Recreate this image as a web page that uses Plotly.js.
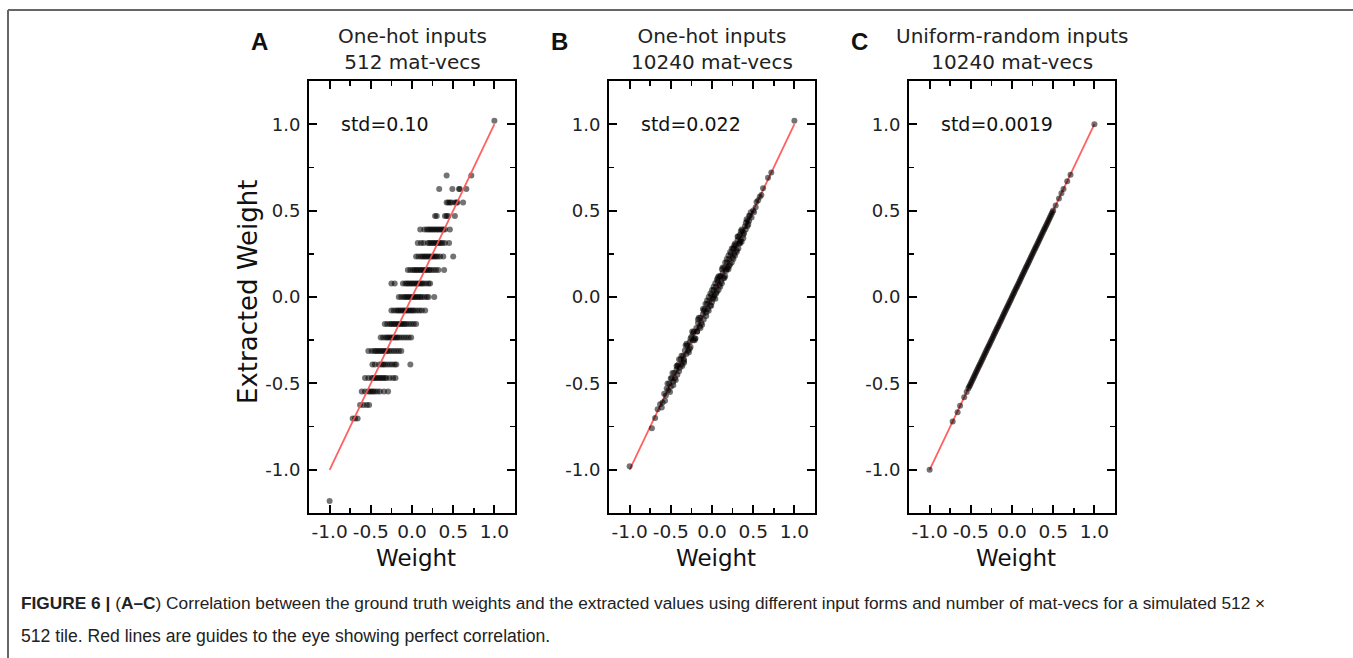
<!DOCTYPE html>
<html>
<head>
<meta charset="utf-8">
<script src="https://cdn.plot.ly/plotly-3.0.1.min.js"></script>
<style>html,body{margin:0;padding:0;background:#fff;}#chart{width:1353px;height:658px;}</style>
</head>
<body>
<div id="chart"></div>
<script>
// ---------- DATA ----------
const panelLetters = ['A', 'B', 'C'];
const panelTitles = ['One-hot inputs<br>512 mat-vecs', 'One-hot inputs<br>10240 mat-vecs', 'Uniform-random inputs<br>10240 mat-vecs'];
const stdLabels = ['std=0.10', 'std=0.022', 'std=0.0019'];
const tickVals = [-1, -0.5, 0, 0.5, 1];
const tickText = ['-1.0', '-0.5', '0.0', '0.5', '1.0'];
const minorTickVals = [-0.75, -0.25, 0.25, 0.75];
const guideX = [-1, 1];
const guideY = [-1, 1];

// Panel A: quantized extracted weight levels and ground-truth weights at each level
const levelsA = [0.703, 0.625, 0.547, 0.469, 0.391, 0.3125, 0.234, 0.156, 0.078, 0.0,
  -0.078, -0.156, -0.234, -0.3125, -0.391, -0.469, -0.547, -0.625, -0.703];
const weightsA = [
  [0.42, 0.72],
  [0.33, 0.49, 0.57, 0.58, 0.66],
  [0.42, 0.44, 0.46, 0.48, 0.52, 0.54, 0.55, 0.62],
  [0.28, 0.30, 0.40, 0.42, 0.44, 0.52],
  [0.10, 0.15, 0.18, 0.20, 0.22, 0.24, 0.26, 0.28, 0.30, 0.32, 0.34, 0.36, 0.38, 0.40, 0.46],
  [0.07, 0.11, 0.14, 0.19, 0.21, 0.23, 0.25, 0.27, 0.29, 0.31, 0.33, 0.35, 0.37, 0.40, 0.45],
  [0.05, 0.08, 0.11, 0.13, 0.15, 0.17, 0.19, 0.21, 0.23, 0.25, 0.27, 0.29, 0.31, 0.34, 0.38, 0.50],
  [-0.05, -0.02, 0.01, 0.03, 0.05, 0.07, 0.09, 0.11, 0.13, 0.15, 0.17, 0.19, 0.21, 0.23, 0.26, 0.29, 0.32, 0.39],
  [-0.25, -0.21, -0.11, -0.08, -0.06, -0.04, -0.02, 0.0, 0.02, 0.04, 0.06, 0.08, 0.10, 0.12, 0.14, 0.17, 0.20, 0.22],
  [-0.16, -0.13, -0.10, -0.08, -0.06, -0.04, -0.02, 0.0, 0.02, 0.04, 0.06, 0.08, 0.10, 0.12, 0.15, 0.18, 0.20, 0.27],
  [-0.25, -0.22, -0.19, -0.17, -0.15, -0.13, -0.11, -0.09, -0.07, -0.05, -0.03, -0.01, 0.01, 0.03, 0.06, 0.09, 0.12, 0.16],
  [-0.33, -0.30, -0.27, -0.25, -0.23, -0.21, -0.19, -0.17, -0.15, -0.13, -0.11, -0.09, -0.07, -0.04, -0.01, 0.02, 0.05],
  [-0.38, -0.35, -0.32, -0.30, -0.28, -0.26, -0.24, -0.22, -0.20, -0.18, -0.16, -0.13, -0.10, -0.07, -0.04, -0.01],
  [-0.53, -0.49, -0.46, -0.44, -0.42, -0.40, -0.38, -0.36, -0.34, -0.32, -0.30, -0.28, -0.25, -0.22, -0.19, -0.16, -0.13],
  [-0.48, -0.45, -0.40, -0.37, -0.35, -0.33, -0.30, -0.27, -0.24, -0.21, -0.19, -0.02],
  [-0.57, -0.53, -0.49, -0.47, -0.45, -0.43, -0.41, -0.39, -0.37, -0.35, -0.33, -0.31, -0.27, -0.23, -0.20],
  [-0.61, -0.57, -0.53, -0.51, -0.49, -0.47, -0.45, -0.42, -0.39, -0.34, -0.29],
  [-0.63, -0.59, -0.55, -0.52],
  [-0.72, -0.69, -0.66]
];
const outliersAx = [1.0, -1.0];
const outliersAy = [1.02, -1.18];

// Panel B: ground truth weight vs extracted weight
const weightB = [-1.00, -0.73, -0.66, -0.63, -0.60, -0.58, -0.56, -0.55, -0.53, -0.52, -0.50, -0.49, -0.47, -0.46, -0.45,
  -0.43, -0.42, -0.41, -0.39, -0.38, -0.37, -0.35, -0.34, -0.33, -0.31, -0.30, -0.29, -0.27, -0.26, -0.25,
  -0.23, -0.22, -0.21, -0.19, -0.18, -0.17, -0.15, -0.14, -0.13, -0.11, -0.10, -0.09, -0.07, -0.06, -0.05,
  -0.03, -0.02, -0.01, 0.01, 0.02, 0.03, 0.05, 0.06, 0.07, 0.09, 0.10, 0.11, 0.13, 0.14, 0.15,
  0.17, 0.18, 0.19, 0.21, 0.22, 0.23, 0.25, 0.26, 0.27, 0.29, 0.30, 0.31, 0.33, 0.34, 0.35,
  0.37, 0.38, 0.40, 0.41, 0.43, 0.44, 0.46, 0.48, 0.50, 0.53, 0.56, 0.58, 0.62, 0.72, 1.00,
  -0.57, -0.54, -0.51, -0.48, -0.44, -0.40, -0.36, -0.32, -0.28, -0.24, -0.20, -0.16, -0.12, -0.08, -0.04,
  0.00, 0.00, 0.04, 0.04, 0.08, 0.08, 0.12, 0.12, 0.16, 0.16, 0.20, 0.20, 0.24, 0.24, 0.28, 0.28,
  0.32, 0.32, 0.36, 0.36, 0.39, 0.42, 0.45, 0.47, 0.51, 0.54, 0.60, 0.68, -0.69, -0.61, -0.02, 0.02, -0.06, 0.06,
  -0.42, -0.34, -0.26, -0.18, -0.10, 0.10, 0.18, 0.26, 0.34,
  -0.50, -0.47, -0.43, -0.40, -0.37, -0.34, -0.31, -0.27, -0.23, -0.21, -0.17, -0.14, -0.11, -0.07, -0.04, -0.01,
  0.02, 0.05, 0.07, 0.10, 0.13, 0.15, 0.18, 0.21, 0.22, 0.26, 0.27, 0.30, 0.31, 0.34, 0.35, 0.38, 0.41, 0.43, 0.45];
const extractedB = [-0.98, -0.76, -0.65, -0.62, -0.61, -0.56, -0.57, -0.53, -0.54, -0.50, -0.52, -0.47, -0.49, -0.44, -0.47,
  -0.42, -0.45, -0.39, -0.41, -0.36, -0.39, -0.34, -0.37, -0.31, -0.33, -0.28, -0.31, -0.26, -0.29, -0.23,
  -0.25, -0.20, -0.24, -0.18, -0.20, -0.15, -0.17, -0.12, -0.15, -0.10, -0.13, -0.07, -0.09, -0.04, -0.07,
  -0.02, -0.05, 0.01, -0.01, 0.04, 0.01, 0.06, 0.03, 0.09, 0.07, 0.12, 0.09, 0.14, 0.11, 0.17,
  0.15, 0.20, 0.17, 0.22, 0.19, 0.25, 0.23, 0.28, 0.25, 0.30, 0.27, 0.33, 0.31, 0.36, 0.33,
  0.38, 0.36, 0.41, 0.39, 0.44, 0.42, 0.47, 0.46, 0.50, 0.52, 0.56, 0.58, 0.63, 0.72, 1.02,
  -0.60, -0.50, -0.55, -0.44, -0.48, -0.36, -0.40, -0.28, -0.32, -0.20, -0.24, -0.12, -0.16, -0.04, -0.08,
  0.04, -0.03, 0.08, -0.01, 0.12, 0.04, 0.16, 0.08, 0.20, 0.12, 0.24, 0.16, 0.28, 0.20, 0.31, 0.24,
  0.35, 0.28, 0.39, 0.32, 0.37, 0.45, 0.44, 0.49, 0.49, 0.55, 0.59, 0.69, -0.70, -0.64, 0.02, 0.00, -0.02, 0.10,
  -0.40, -0.36, -0.24, -0.20, -0.08, 0.12, 0.16, 0.28, 0.32,
  -0.47, -0.51, -0.40, -0.43, -0.34, -0.38, -0.27, -0.30, -0.21, -0.25, -0.13, -0.18, -0.07, -0.11, 0.00, -0.05,
  0.06, 0.02, 0.11, 0.06, 0.17, 0.11, 0.22, 0.18, 0.26, 0.22, 0.30, 0.26, 0.35, 0.31, 0.38, 0.34, 0.43, 0.41, 0.47];

// Panel C: ground truth weight vs extracted weight
const weightC = [-1.00, -0.72, -0.66, -0.63, -0.58, -0.55,
  -0.53, -0.52, -0.51, -0.50, -0.49, -0.48, -0.47, -0.46, -0.45, -0.44, -0.43, -0.42, -0.41, -0.40,
  -0.39, -0.38, -0.37, -0.36, -0.35, -0.34, -0.33, -0.32, -0.31, -0.30, -0.29, -0.28, -0.27, -0.26,
  -0.25, -0.24, -0.23, -0.22, -0.21, -0.20, -0.19, -0.18, -0.17, -0.16, -0.15, -0.14, -0.13, -0.12,
  -0.11, -0.10, -0.09, -0.08, -0.07, -0.06, -0.05, -0.04, -0.03, -0.02, -0.01, 0.00, 0.01, 0.02,
  0.03, 0.04, 0.05, 0.06, 0.07, 0.08, 0.09, 0.10, 0.11, 0.12, 0.13, 0.14, 0.15, 0.16, 0.17, 0.18,
  0.19, 0.20, 0.21, 0.22, 0.23, 0.24, 0.25, 0.26, 0.27, 0.28, 0.29, 0.30, 0.31, 0.32, 0.33, 0.34,
  0.35, 0.36, 0.37, 0.38, 0.39, 0.40, 0.41, 0.42, 0.43, 0.44, 0.45, 0.46, 0.47, 0.48, 0.49, 0.50,
  0.53, 0.57, 0.60, 0.625, 0.67, 0.71, 1.00];
const extractedC = [-1.00, -0.72, -0.667, -0.63, -0.58, -0.55,
  -0.53, -0.52, -0.51, -0.50, -0.49, -0.48, -0.47, -0.46, -0.45, -0.44, -0.43, -0.42, -0.41, -0.40,
  -0.39, -0.38, -0.37, -0.36, -0.35, -0.34, -0.33, -0.32, -0.31, -0.30, -0.29, -0.28, -0.27, -0.26,
  -0.25, -0.24, -0.23, -0.22, -0.21, -0.20, -0.19, -0.18, -0.17, -0.16, -0.15, -0.14, -0.13, -0.12,
  -0.11, -0.10, -0.09, -0.08, -0.07, -0.06, -0.05, -0.04, -0.03, -0.02, -0.01, 0.00, 0.01, 0.02,
  0.03, 0.04, 0.05, 0.06, 0.07, 0.08, 0.09, 0.10, 0.11, 0.12, 0.13, 0.14, 0.15, 0.16, 0.17, 0.18,
  0.19, 0.20, 0.21, 0.22, 0.23, 0.24, 0.25, 0.26, 0.27, 0.28, 0.29, 0.30, 0.31, 0.32, 0.33, 0.34,
  0.35, 0.36, 0.37, 0.38, 0.39, 0.40, 0.41, 0.42, 0.43, 0.44, 0.45, 0.46, 0.47, 0.48, 0.49, 0.50,
  0.53, 0.57, 0.60, 0.625, 0.67, 0.708, 1.00];

const captionLine1 = '<b>FIGURE 6 |</b> (<b>A–C</b>) Correlation between the ground truth weights and the extracted values using different input forms and number of mat-vecs for a simulated 512 ×';
const captionLine2 = '512 tile. Red lines are guides to the eye showing perfect correlation.';

// ---------- BUILD ----------
const W = 1353, H = 658;
const px = v => v / W;
const py = v => 1 - v / H;

const ax = [], ay = [];
weightsA.forEach((row, i) => row.forEach(v => { ax.push(v); ay.push(levelsA[i]); }));
outliersAx.forEach((v, i) => { ax.push(v); ay.push(outliersAy[i]); });

const marker = {size: 6, color: 'rgba(0,0,0,0.55)', line: {width: 0}};
const guideLine = {color: 'rgba(255,80,80,0.9)', width: 1.8};

const traces = [
  {x: ax, y: ay, xaxis: 'x', yaxis: 'y', mode: 'markers', type: 'scatter', marker: marker, hoverinfo: 'none'},
  {x: guideX, y: guideY, xaxis: 'x', yaxis: 'y', mode: 'lines', type: 'scatter', line: guideLine, hoverinfo: 'none'},
  {x: guideX, y: guideY, xaxis: 'x2', yaxis: 'y2', mode: 'lines', type: 'scatter', line: guideLine, hoverinfo: 'none'},
  {x: weightB, y: extractedB, xaxis: 'x2', yaxis: 'y2', mode: 'markers', type: 'scatter', marker: marker, hoverinfo: 'none'},
  {x: guideX, y: guideY, xaxis: 'x3', yaxis: 'y3', mode: 'lines', type: 'scatter', line: guideLine, hoverinfo: 'none'},
  {x: weightC, y: extractedC, xaxis: 'x3', yaxis: 'y3', mode: 'markers', type: 'scatter', marker: marker, hoverinfo: 'none'}
];

function axis(domain, anchor, standoff, fsize) {
  return {
    domain: domain, anchor: anchor, range: [-1.25, 1.25],
    tickmode: 'array', tickvals: tickVals, ticktext: tickText,
    ticks: 'inside', ticklen: 8, tickwidth: 2, tickcolor: '#000',
    showline: true, linewidth: 2, linecolor: '#000', mirror: 'allticks',
    showgrid: false, zeroline: false, fixedrange: true,
    ticklabelstandoff: standoff,
    tickfont: {family: 'DejaVu Sans', size: fsize, color: '#222'},
    minor: {tickmode: 'array', tickvals: minorTickVals, ticks: 'inside', ticklen: 5, tickwidth: 1.5, tickcolor: '#000', showgrid: false}
  };
}

const lefts = [309, 609, 909];
const pw = 206;
const yDom = [py(513), py(81)];

const layout = {
  width: W, height: H, margin: {l: 0, r: 0, t: 0, b: 0},
  paper_bgcolor: '#fff', plot_bgcolor: '#fff', showlegend: false,
  xaxis: axis([px(lefts[0]), px(lefts[0] + pw)], 'y', 1, 18.5),
  yaxis: axis(yDom, 'x', 3, 18),
  xaxis2: axis([px(lefts[1]), px(lefts[1] + pw)], 'y2', 1, 18.5),
  yaxis2: axis(yDom, 'x2', 3, 18),
  xaxis3: axis([px(lefts[2]), px(lefts[2] + pw)], 'y3', 1, 18.5),
  yaxis3: axis(yDom, 'x3', 3, 18),
  annotations: [],
  shapes: [
    {type: 'line', xref: 'paper', yref: 'paper', x0: px(8), x1: 1, y0: py(10), y1: py(10), line: {color: '#666', width: 2}},
    {type: 'line', xref: 'paper', yref: 'paper', x0: px(8), x1: px(8), y0: py(10), y1: 0, line: {color: '#666', width: 2}}
  ]
};

const titleFont = {family: 'DejaVu Sans', size: 20, color: '#222'};
lefts.forEach((l, i) => {
  const cx = l + pw / 2;
  layout.annotations.push({xref: 'paper', yref: 'paper', x: px(cx), y: py(49), xanchor: 'center', yanchor: 'middle',
    text: panelTitles[i], showarrow: false, font: titleFont, align: 'center'});
  layout.annotations.push({xref: 'paper', yref: 'paper', x: px(l - 50), y: py(42), xanchor: 'center', yanchor: 'middle',
    text: '<b>' + panelLetters[i] + '</b>', showarrow: false, font: {family: 'Liberation Sans', size: 24, color: '#111'}});
  layout.annotations.push({xref: 'paper', yref: 'paper', x: px(l + 30), y: py(124), xanchor: 'left', yanchor: 'middle',
    text: stdLabels[i], showarrow: false, font: {family: 'DejaVu Sans', size: 19, color: '#111'}});
  layout.annotations.push({xref: 'paper', yref: 'paper', x: px(cx + 4), y: py(558), xanchor: 'center', yanchor: 'middle',
    text: 'Weight', showarrow: false, font: {family: 'DejaVu Sans', size: 23, color: '#111'}});
});
layout.annotations.push({xref: 'paper', yref: 'paper', x: px(248), y: py(292), xanchor: 'center', yanchor: 'middle',
  text: 'Extracted Weight', textangle: -90, showarrow: false, font: {family: 'DejaVu Sans', size: 26, color: '#111'}});
layout.annotations.push({xref: 'paper', yref: 'paper', x: px(19), y: py(603), xanchor: 'left', yanchor: 'middle',
  text: captionLine1, showarrow: false, font: {family: 'Liberation Sans', size: 17.3, color: '#222'}});
layout.annotations.push({xref: 'paper', yref: 'paper', x: px(19), y: py(636), xanchor: 'left', yanchor: 'middle',
  text: captionLine2, showarrow: false, font: {family: 'Liberation Sans', size: 17.6, color: '#222'}});

Plotly.newPlot('chart', traces, layout, {staticPlot: true, displayModeBar: false});
</script>
</body>
</html>
